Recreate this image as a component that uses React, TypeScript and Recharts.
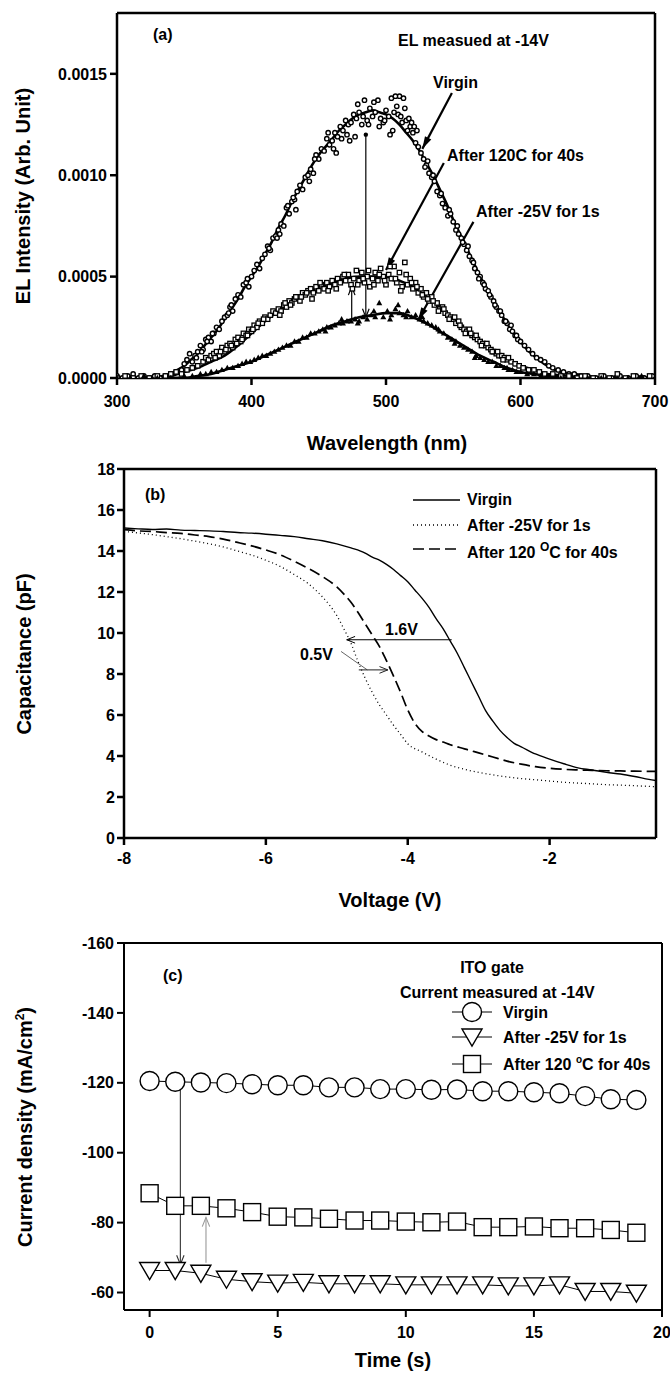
import React from 'react'
import { ComposedChart, Line, Scatter, XAxis, YAxis, ReferenceLine } from 'recharts'

const FONT = '"Liberation Sans", Arial, Helvetica, sans-serif'

// ---------- (a) EL spectra ----------
const wlTicks = [300, 400, 500, 600, 700]
const elTicks = [0, 0.0005, 0.001, 0.0015]

const virginPts: [number, number][] = [
  [300, 0.00001], [304, 0], [308, 0.00001], [312, 0.00002], [316, 0], [320, 0.00001], [324, 0], [328, 0.00001],
  [332, 0], [336, 0.00001], [340, 0.00002], [344, 0.00003], [348, 0.00004], [350, 0.00007], [352, 0.00009],
  [354, 0.00012], [356, 0.00008], [358, 0.00011], [360, 0.00013], [362, 0.00016], [364, 0.00014], [366, 0.00019],
  [368, 0.0002], [370, 0.00018], [372, 0.00022], [374, 0.00025], [376, 0.00024], [378, 0.00028], [380, 0.0003],
  [382, 0.00031], [384, 0.00035], [386, 0.00033], [388, 0.00039], [390, 0.00041], [392, 0.0004], [394, 0.00046],
  [396, 0.00047], [398, 0.00045], [400, 0.0005], [402, 0.00053], [404, 0.00056], [406, 0.00054], [408, 0.00059],
  [410, 0.00061], [412, 0.00065], [414, 0.00063], [416, 0.00069], [418, 0.0007], [420, 0.00073], [422, 0.00076],
  [424, 0.00075], [426, 0.00084], [428, 0.00081], [430, 0.00087], [432, 0.00088], [434, 0.00092], [436, 0.00095],
  [438, 0.00093], [440, 0.00099], [442, 0.001], [444, 0.00103], [446, 0.00101], [448, 0.0011], [450, 0.00108],
  [452, 0.00113], [454, 0.00112], [456, 0.00118], [458, 0.00115], [460, 0.00117], [462, 0.00121], [464, 0.00119],
  [466, 0.00124], [468, 0.00122], [470, 0.00127], [472, 0.00125], [474, 0.00126], [476, 0.0013], [478, 0.00128],
  [480, 0.00131], [482, 0.00125], [484, 0.00137], [486, 0.00127], [488, 0.00133], [490, 0.00129], [492, 0.00131],
  [494, 0.00137], [496, 0.00128], [498, 0.00126], [500, 0.00132], [502, 0.00129], [504, 0.00138], [506, 0.00131],
  [508, 0.00134], [510, 0.00139], [512, 0.00126], [514, 0.00133], [516, 0.00122], [518, 0.00124], [520, 0.00121],
  [522, 0.00116], [524, 0.00114], [526, 0.00111], [528, 0.00108], [530, 0.00105], [532, 0.00101], [534, 0.00099],
  [536, 0.00097], [538, 0.00092], [540, 0.0009], [542, 0.00086], [544, 0.00084], [546, 0.0008], [548, 0.00081],
  [550, 0.00077], [552, 0.00073], [554, 0.00071], [556, 0.00069], [558, 0.00066], [560, 0.00063], [562, 0.0006],
  [564, 0.00058], [566, 0.00054], [568, 0.00052], [570, 0.0005], [572, 0.00047], [574, 0.00044], [576, 0.00043],
  [578, 0.0004], [580, 0.00038], [582, 0.00035], [584, 0.00033], [586, 0.00031], [588, 0.00028], [590, 0.00027],
  [592, 0.00024], [594, 0.00023], [596, 0.00021], [598, 0.00019], [600, 0.00018], [603, 0.00016], [606, 0.00014],
  [609, 0.00012], [612, 0.0001], [615, 0.00009], [618, 0.00008], [621, 0.00006], [624, 0.00005], [628, 0.00004],
  [632, 0.00003], [636, 0.00002], [640, 0.00002], [645, 0.00001], [650, 0.00001], [656, 0], [662, 0.00001],
  [668, 0], [674, 0.00001], [680, 0], [686, 0.00001], [692, 0], [698, 0.00001],
  // second scan, odd wavelengths
  [359, 0.0001], [363, 0.00013], [367, 0.00018], [371, 0.00022], [383, 0.00032], [385, 0.00036], [397, 0.00049],
  [413, 0.00064], [419, 0.00069], [421, 0.00071], [427, 0.00085], [431, 0.00089], [433, 0.00083], [443, 0.00097],
  [447, 0.00108], [457, 0.00121], [461, 0.00113], [463, 0.00111], [467, 0.00118], [471, 0.0012], [473, 0.00117],
  [477, 0.00119], [479, 0.00135], [483, 0.00129], [487, 0.00125], [491, 0.00136], [495, 0.00124], [499, 0.00127],
  [503, 0.0012], [505, 0.00122], [507, 0.00139], [509, 0.0013], [511, 0.00129], [513, 0.00138], [515, 0.00127],
  [517, 0.00128], [519, 0.00126], [521, 0.00124], [523, 0.00122], [529, 0.00104], [531, 0.00107], [535, 0.001],
  [541, 0.00091], [547, 0.00083], [553, 0.00075], [557, 0.00067], [561, 0.00065], [565, 0.00057], [569, 0.00049],
  [573, 0.00046], [577, 0.00041], [581, 0.00036], [585, 0.00033], [589, 0.00028], [593, 0.00026], [597, 0.00021],
]

const bakePts: [number, number][] = [
  [300, 0], [306, 0.00001], [312, 0], [318, 0.00001], [324, 0], [330, 0.00001], [336, 0.00001], [340, 0.00002],
  [344, 0.00003], [348, 0.00002], [352, 0.00004], [356, 0.00005], [360, 0.00006], [364, 0.00008], [366, 0.0001],
  [368, 0.00009], [370, 0.00011], [372, 0.00012], [374, 0.00013], [376, 0.00011], [378, 0.00015], [380, 0.00013],
  [382, 0.00016], [384, 0.00017], [386, 0.00015], [388, 0.00019], [390, 0.0002], [392, 0.00018], [394, 0.00022],
  [396, 0.00021], [398, 0.00024], [400, 0.00023], [402, 0.00026], [404, 0.00025], [406, 0.00028], [408, 0.00027],
  [410, 0.0003], [412, 0.00029], [414, 0.00031], [416, 0.00033], [418, 0.00032], [420, 0.00034], [422, 0.00033],
  [424, 0.00036], [426, 0.00035], [428, 0.00038], [430, 0.00037], [432, 0.00039], [434, 0.0004], [436, 0.00038],
  [438, 0.00042], [440, 0.00041], [442, 0.00043], [444, 0.00044], [446, 0.00042], [448, 0.00045], [450, 0.00043],
  [452, 0.00046], [454, 0.00044], [456, 0.00047], [458, 0.00045], [460, 0.00048], [462, 0.00046], [464, 0.00049],
  [466, 0.00047], [468, 0.0005], [470, 0.00048], [472, 0.00051], [474, 0.00046], [476, 0.00049], [478, 0.00053],
  [480, 0.00048], [482, 0.00052], [484, 0.00047], [486, 0.0005], [488, 0.00045], [490, 0.00049], [492, 0.00052],
  [494, 0.00048], [496, 0.00054], [498, 0.0005], [500, 0.00046], [502, 0.00051], [504, 0.00049], [506, 0.00055],
  [508, 0.00047], [510, 0.00052], [512, 0.00045], [514, 0.00057], [516, 0.00046], [518, 0.00049], [520, 0.00044],
  [522, 0.00047], [524, 0.00042], [526, 0.00044], [528, 0.0004], [530, 0.00042], [532, 0.00038], [534, 0.0004],
  [536, 0.00036], [538, 0.00037], [540, 0.00034], [542, 0.00035], [544, 0.00032], [546, 0.00031], [548, 0.0003],
  [550, 0.00029], [552, 0.00027], [554, 0.00028], [556, 0.00025], [558, 0.00024], [560, 0.00023], [562, 0.00024],
  [564, 0.00021], [566, 0.0002], [568, 0.00019], [570, 0.00018], [572, 0.00017], [574, 0.00016], [576, 0.00015],
  [578, 0.00014], [580, 0.00013], [582, 0.00012], [584, 0.00011], [586, 0.00011], [588, 0.0001], [590, 0.00009],
  [593, 0.00008], [596, 0.00007], [599, 0.00006], [602, 0.00005], [606, 0.00004], [610, 0.00004], [614, 0.00003],
  [618, 0.00002], [624, 0.00002], [630, 0.00001], [636, 0.00001], [642, 0], [648, 0.00001], [654, 0],
  [660, 0.00001], [666, 0], [672, 0.00002], [678, 0], [684, 0.00001], [690, 0], [696, 0.00001],
  // second scan, odd wavelengths
  [373, 0.0001], [377, 0.00013], [381, 0.00014], [385, 0.00016], [389, 0.00017], [393, 0.00019], [397, 0.00021],
  [401, 0.00024], [405, 0.00027], [409, 0.00029], [421, 0.00031], [425, 0.00037], [429, 0.00036], [433, 0.0004],
  [437, 0.0004], [441, 0.00042], [445, 0.00039], [451, 0.00047], [457, 0.00043], [463, 0.00044], [469, 0.00051],
  [475, 0.00044], [479, 0.00046], [483, 0.00049], [487, 0.00053], [491, 0.00046], [495, 0.00051], [499, 0.00048],
  [503, 0.00055], [507, 0.00049], [511, 0.00043], [515, 0.00051], [519, 0.00047], [523, 0.00045], [527, 0.00041],
  [531, 0.00039], [535, 0.00038], [539, 0.00033], [543, 0.00034], [547, 0.00029], [551, 0.0003], [555, 0.00026],
  [559, 0.00022], [563, 0.00022], [567, 0.00021], [571, 0.00016], [575, 0.00017], [579, 0.00013], [583, 0.00013],
  [587, 0.00009], [591, 0.0001],
]

const stressPts: [number, number][] = [
  [300, 0], [310, 0], [320, 0.00001], [330, 0], [340, 0], [350, 0.00001], [356, 0.00001], [362, 0.00002],
  [366, 0.00002], [370, 0.00003], [374, 0.00003], [378, 0.00004], [382, 0.00005], [386, 0.00005], [390, 0.00006],
  [393, 0.00007], [396, 0.00008], [399, 0.00008], [402, 0.00009], [405, 0.0001], [408, 0.00011], [411, 0.00011],
  [414, 0.00012], [417, 0.00013], [420, 0.00014], [423, 0.00015], [426, 0.00016], [429, 0.00016], [432, 0.00018],
  [435, 0.00018], [438, 0.0002], [441, 0.0002], [444, 0.00022], [447, 0.00022], [450, 0.00023], [453, 0.00024],
  [456, 0.00025], [459, 0.00025], [462, 0.00026], [465, 0.00027], [468, 0.00027], [471, 0.00028], [474, 0.00028],
  [477, 0.00029], [480, 0.00028], [483, 0.0003], [486, 0.00029], [489, 0.00031], [492, 0.0003], [495, 0.00037],
  [498, 0.0003], [501, 0.00033], [504, 0.00031], [507, 0.00034], [510, 0.00032], [513, 0.00031], [516, 0.00033],
  [519, 0.0003], [522, 0.00031], [525, 0.00029], [528, 0.00028], [531, 0.00027], [534, 0.00026], [537, 0.00025],
  [540, 0.00023], [543, 0.00022], [546, 0.0002], [549, 0.00019], [552, 0.00018], [555, 0.00016], [558, 0.00015],
  [561, 0.00014], [564, 0.00013], [567, 0.00011], [570, 0.0001], [573, 0.00009], [576, 0.00008], [579, 0.00008],
  [582, 0.00006], [585, 0.00006], [588, 0.00005], [591, 0.00004], [594, 0.00004], [597, 0.00003], [600, 0.00003],
  [605, 0.00002], [610, 0.00002], [615, 0.00001], [620, 0.00001], [630, 0], [640, 0], [650, 0], [660, 0],
  [670, 0], [680, 0], [690, 0.00001], [700, 0],
  // second scan
  [455, 0.00023], [467, 0.00029], [479, 0.00027], [491, 0.00033], [503, 0.00029], [509, 0.00036], [515, 0.0003],
  [527, 0.0003], [539, 0.00024], [551, 0.00017], [566, 0.0001], [590, 0.00005],
]

const virginFit: [number, number][] = [
  [300, 0], [320, 0], [340, 0.00002], [345, 0.00004], [350, 0.00006], [355, 0.00009], [360, 0.00012], [365, 0.00016],
  [370, 0.0002], [375, 0.00024], [380, 0.00029], [385, 0.00034], [390, 0.00039], [395, 0.00045], [400, 0.0005],
  [405, 0.00055], [410, 0.00061], [415, 0.00067], [420, 0.00074], [425, 0.0008], [430, 0.00087], [435, 0.00093],
  [440, 0.00099], [445, 0.00105], [450, 0.0011], [455, 0.00114], [460, 0.00118], [465, 0.00122], [470, 0.00125],
  [475, 0.00128], [480, 0.0013], [485, 0.00131], [490, 0.00132], [495, 0.00131], [500, 0.0013], [505, 0.00128],
  [510, 0.00125], [515, 0.00121], [520, 0.00117], [525, 0.00112], [530, 0.00106], [535, 0.001], [540, 0.00093],
  [545, 0.00086], [550, 0.00078], [555, 0.00071], [560, 0.00064], [565, 0.00057], [570, 0.0005], [575, 0.00044],
  [580, 0.00038], [585, 0.00032], [590, 0.00027], [595, 0.00022], [600, 0.00018], [605, 0.00014], [610, 0.00011],
  [620, 0.00006], [630, 0.00003], [640, 0.00002], [650, 0.00001], [670, 0], [700, 0],
]

const bakeFit: [number, number][] = [
  [300, 0], [330, 0], [340, 0.00001], [350, 0.00003], [360, 0.00005], [370, 0.00008], [380, 0.00011], [390, 0.00016],
  [400, 0.00022], [410, 0.00028], [420, 0.00033], [430, 0.00038], [440, 0.00042], [450, 0.00045], [460, 0.00047],
  [470, 0.00049], [480, 0.0005], [490, 0.0005], [500, 0.0005], [510, 0.00048], [520, 0.00045], [530, 0.0004],
  [540, 0.00035], [550, 0.00029], [560, 0.00023], [570, 0.00018], [580, 0.00013], [590, 0.00009], [600, 0.00006],
  [610, 0.00004], [620, 0.00002], [640, 0.00001], [660, 0], [700, 0],
]

const stressFit: [number, number][] = [
  [300, 0], [350, 0], [360, 0.00001], [370, 0.00002], [380, 0.00004], [390, 0.00006], [400, 0.00008], [410, 0.00011],
  [420, 0.00014], [430, 0.00017], [440, 0.0002], [450, 0.00023], [460, 0.00026], [470, 0.00028], [480, 0.0003],
  [490, 0.00031], [500, 0.00032], [510, 0.00032], [520, 0.0003], [530, 0.00027], [540, 0.00023], [550, 0.00019],
  [560, 0.00015], [570, 0.00011], [580, 0.00008], [590, 0.00005], [600, 0.00003], [610, 0.00002], [620, 0.00001],
  [640, 0], [700, 0],
]

// ---------- (b) C-V ----------
const vTicks = [-8, -6, -4, -2]
const cTicks = [0, 2, 4, 6, 8, 10, 12, 14, 16, 18]

const cvVirgin: [number, number][] = [
  [-8, 15.12], [-7.8, 15.08], [-7.6, 15.05], [-7.4, 15.07], [-7.2, 15.02], [-7, 15.0], [-6.8, 14.98], [-6.6, 14.95],
  [-6.4, 14.9], [-6.2, 14.87], [-6, 14.82], [-5.8, 14.76], [-5.6, 14.7], [-5.4, 14.6], [-5.2, 14.5], [-5, 14.35],
  [-4.8, 14.15], [-4.6, 13.9], [-4.5, 13.7], [-4.4, 13.55], [-4.3, 13.35], [-4.2, 13.1], [-4.1, 12.8], [-4, 12.5],
  [-3.9, 12.1], [-3.8, 11.7], [-3.7, 11.25], [-3.6, 10.7], [-3.5, 10.2], [-3.4, 9.6], [-3.3, 9.0], [-3.2, 8.3],
  [-3.1, 7.6], [-3, 6.9], [-2.9, 6.2], [-2.8, 5.7], [-2.7, 5.25], [-2.6, 4.9], [-2.5, 4.62], [-2.4, 4.45],
  [-2.2, 4.1], [-2, 3.85], [-1.8, 3.62], [-1.6, 3.42], [-1.4, 3.32], [-1.2, 3.2], [-1, 3.12], [-0.8, 3.0],
  [-0.6, 2.86], [-0.5, 2.8],
]

const cvStress: [number, number][] = [
  [-8, 14.96], [-7.8, 14.88], [-7.6, 14.8], [-7.4, 14.7], [-7.2, 14.6], [-7, 14.48], [-6.8, 14.35], [-6.6, 14.2],
  [-6.4, 14.0], [-6.2, 13.8], [-6, 13.55], [-5.8, 13.25], [-5.6, 12.85], [-5.4, 12.4], [-5.2, 11.75], [-5.1, 11.35],
  [-5, 10.85], [-4.9, 10.2], [-4.8, 9.5], [-4.7, 8.6], [-4.6, 7.8], [-4.5, 7.1], [-4.4, 6.5], [-4.3, 6.0],
  [-4.2, 5.5], [-4.1, 5.05], [-4, 4.6], [-3.8, 4.2], [-3.6, 3.85], [-3.4, 3.55], [-3.2, 3.35], [-3, 3.2],
  [-2.8, 3.08], [-2.6, 2.98], [-2.4, 2.9], [-2.2, 2.84], [-2, 2.78], [-1.8, 2.72], [-1.6, 2.68], [-1.4, 2.64],
  [-1.2, 2.6], [-1, 2.58], [-0.8, 2.55], [-0.5, 2.5],
]

const cvBake: [number, number][] = [
  [-8, 15.04], [-7.8, 14.98], [-7.6, 14.95], [-7.4, 14.9], [-7.2, 14.86], [-7, 14.78], [-6.8, 14.7], [-6.6, 14.58],
  [-6.4, 14.42], [-6.2, 14.25], [-6, 14.05], [-5.8, 13.82], [-5.6, 13.5], [-5.4, 13.15], [-5.2, 12.75], [-5, 12.25],
  [-4.9, 11.9], [-4.8, 11.5], [-4.7, 11.0], [-4.6, 10.45], [-4.5, 9.9], [-4.4, 9.35], [-4.3, 8.65], [-4.2, 7.9],
  [-4.1, 7.1], [-4, 6.25], [-3.9, 5.6], [-3.8, 5.2], [-3.7, 4.98], [-3.6, 4.8], [-3.5, 4.68], [-3.4, 4.55],
  [-3.2, 4.35], [-3, 4.15], [-2.8, 3.95], [-2.6, 3.75], [-2.4, 3.6], [-2.2, 3.48], [-2, 3.4], [-1.8, 3.35],
  [-1.6, 3.32], [-1.4, 3.3], [-1.2, 3.28], [-1, 3.27], [-0.8, 3.26], [-0.5, 3.25],
]

// ---------- (c) current vs time ----------
const timeS = [0, 1, 2, 3, 4, 5, 6, 7, 8, 9, 10, 11, 12, 13, 14, 15, 16, 17, 18, 19]
const jVirgin = [-120.5, -120.3, -120.1, -119.9, -119.6, -119.3, -119.3, -118.7, -118.7, -118.2, -118.2, -118.0, -118.1, -117.6, -117.6, -117.3, -117.0, -116.2, -115.3, -115.1]
const jStress = [-66.3, -66.3, -65.5, -63.8, -63.1, -62.7, -62.9, -62.5, -62.5, -62.5, -62.2, -62.2, -62.2, -62.2, -61.9, -61.9, -62.2, -60.3, -60.3, -59.8]
const jBake = [-88.4, -84.8, -84.8, -84.1, -83.0, -81.7, -81.5, -81.1, -80.6, -80.6, -80.3, -80.1, -80.3, -78.7, -78.7, -78.9, -78.4, -78.4, -77.9, -77.1]
const tTicks = [0, 5, 10, 15, 20]
const jTicks = [-160, -140, -120, -100, -80, -60]

const toXY = (arr: [number, number][]) => arr.map(([x, y]) => ({ x, y }))
const jRows = timeS.map((t, i) => ({ t, virgin: jVirgin[i], stress: jStress[i], bake: jBake[i] }))

const tickStyle = { fontSize: 16, fontWeight: 'bold' as const, fill: '#000', fontFamily: FONT }

function arrow({ color = '#000', width = 1, filled = false, size = 8, dot = false }) {
  return (p: any) => {
    const { x1, y1, x2, y2 } = p
    const a = Math.atan2(y2 - y1, x2 - x1)
    const s = filled ? 0.28 : 0.38
    const lx = x2 - size * Math.cos(a - s)
    const ly = y2 - size * Math.sin(a - s)
    const rx = x2 - size * Math.cos(a + s)
    const ry = y2 - size * Math.sin(a + s)
    return (
      <g>
        <line x1={x1} y1={y1} x2={x2} y2={y2} stroke={color} strokeWidth={width} />
        {filled ? (
          <path d={`M${x2},${y2}L${lx},${ly}L${rx},${ry}Z`} fill={color} />
        ) : (
          <path d={`M${lx},${ly}L${x2},${y2}L${rx},${ry}`} fill="none" stroke={color} strokeWidth={width} />
        )}
        {dot && <circle cx={x1} cy={y1} r={2.2} fill={color} />}
      </g>
    )
  }
}

const smallCircle = (p: any) => <circle cx={p.cx} cy={p.cy} r={2.2} fill="#fff" stroke="#000" strokeWidth={1.4} />
const smallSquare = (p: any) => <rect x={p.cx - 2.2} y={p.cy - 2.2} width={4.4} height={4.4} fill="#fff" stroke="#000" strokeWidth={1.3} />
const smallTri = (p: any) => <path d={`M${p.cx},${p.cy - 3.2}L${p.cx + 3},${p.cy + 2.2}L${p.cx - 3},${p.cy + 2.2}Z`} fill="#000" />

const bigCircle = (p: any) => <circle key={p.index} cx={p.cx} cy={p.cy} r={9.5} fill="#fff" stroke="#000" strokeWidth={1.4} />
const bigSquare = (p: any) => <rect key={p.index} x={p.cx - 8.5} y={p.cy - 8.5} width={17} height={17} fill="#fff" stroke="#000" strokeWidth={1.4} />
const bigTri = (p: any) => <path key={p.index} d={`M${p.cx - 10},${p.cy - 8}L${p.cx + 10},${p.cy - 8}L${p.cx},${p.cy + 9}Z`} fill="#fff" stroke="#000" strokeWidth={1.4} />

function PanelA() {
  return (
    <ComposedChart width={670} height={460} margin={{ top: 13, right: 15, bottom: 0, left: 0 }}>
      <XAxis type="number" dataKey="x" domain={[300, 700]} ticks={wlTicks} height={82} stroke="#000" strokeWidth={2.5}
        tickSize={7} tickMargin={11} tick={tickStyle} allowDataOverflow />
      <YAxis type="number" dataKey="y" domain={[0, 0.0018]} ticks={elTicks} width={117} stroke="#000" strokeWidth={2.5}
        tickSize={7} tickMargin={3} tick={tickStyle} tickFormatter={(v: number) => v.toFixed(4)} allowDataOverflow />
      <ReferenceLine y={0.0018} stroke="#000" strokeWidth={2.5} />
      <ReferenceLine x={700} stroke="#000" strokeWidth={2.5} />
      <Scatter data={toXY(virginPts)} shape={smallCircle} isAnimationActive={false} />
      <Scatter data={toXY(bakePts)} shape={smallSquare} isAnimationActive={false} />
      <Scatter data={toXY(stressPts)} shape={smallTri} isAnimationActive={false} />
      <Line data={toXY(virginFit)} dataKey="y" type="monotone" stroke="#000" strokeWidth={2.6} dot={false} isAnimationActive={false} />
      <Line data={toXY(bakeFit)} dataKey="y" type="monotone" stroke="#000" strokeWidth={2.6} dot={false} isAnimationActive={false} />
      <Line data={toXY(stressFit)} dataKey="y" type="monotone" stroke="#000" strokeWidth={2.6} dot={false} isAnimationActive={false} />
      <ReferenceLine segment={[{ x: 549, y: 0.001406 }, { x: 527, y: 0.00113 }]} shape={arrow({ width: 2.2, filled: true, size: 13 })} />
      <ReferenceLine segment={[{ x: 543, y: 0.00106 }, { x: 500, y: 0.000533 }]} shape={arrow({ width: 2.2, filled: true, size: 13 })} />
      <ReferenceLine segment={[{ x: 565, y: 0.00077 }, { x: 524, y: 0.000287 }]} shape={arrow({ width: 2.2, filled: true, size: 13 })} />
      <ReferenceLine segment={[{ x: 485, y: 0.0012 }, { x: 485, y: 0.0003 }]} shape={arrow({ width: 1.2, size: 9, dot: true })} />
      <ReferenceLine segment={[{ x: 474.5, y: 0.000288 }, { x: 474.5, y: 0.00045 }]} shape={arrow({ width: 1.2, size: 9 })} />
    </ComposedChart>
  )
}

function PanelB() {
  return (
    <ComposedChart width={670} height={460} margin={{ top: 9, right: 14, bottom: 0, left: 0 }}>
      <XAxis type="number" dataKey="x" domain={[-8, -0.5]} ticks={vTicks} height={82} stroke="#000" strokeWidth={2.5}
        tickSize={7} tickMargin={8} tick={tickStyle} allowDataOverflow />
      <YAxis type="number" domain={[0, 18]} ticks={cTicks} width={124} stroke="#000" strokeWidth={2.5}
        tickSize={7} tickMargin={2} tick={tickStyle} allowDataOverflow />
      <ReferenceLine y={18} stroke="#000" strokeWidth={2.5} />
      <ReferenceLine x={-0.5} stroke="#000" strokeWidth={2.5} />
      <Line data={toXY(cvVirgin)} dataKey="y" type="monotone" stroke="#000" strokeWidth={1.4} dot={false} isAnimationActive={false} />
      <Line data={toXY(cvStress)} dataKey="y" type="monotone" stroke="#000" strokeWidth={1.3} strokeDasharray="1 3" dot={false} isAnimationActive={false} />
      <Line data={toXY(cvBake)} dataKey="y" type="monotone" stroke="#000" strokeWidth={1.7} strokeDasharray="11 5" dot={false} isAnimationActive={false} />
      <ReferenceLine segment={[{ x: -3.38, y: 9.67 }, { x: -4.86, y: 9.67 }]} shape={arrow({ width: 1, size: 9 })} />
      <ReferenceLine segment={[{ x: -4.94, y: 9.1 }, { x: -4.57, y: 8.2 }]} shape={(p: any) => <line x1={p.x1} y1={p.y1} x2={p.x2} y2={p.y2} stroke="#555" strokeWidth={0.9} />} />
      <ReferenceLine segment={[{ x: -4.69, y: 8.2 }, { x: -4.28, y: 8.2 }]} shape={arrow({ width: 1, size: 9, color: '#222' })} />
    </ComposedChart>
  )
}

function PanelC() {
  return (
    <ComposedChart width={670} height={463} data={jRows} margin={{ top: 23, right: 8, bottom: 0, left: 0 }}>
      <XAxis type="number" dataKey="t" domain={[-1, 20]} ticks={tTicks} height={73} stroke="#000" strokeWidth={2}
        tickSize={7} tickMargin={10} tick={tickStyle} allowDataOverflow />
      <YAxis type="number" domain={[-160, -55]} reversed ticks={jTicks} width={124} stroke="#000" strokeWidth={2}
        tickSize={7} tickMargin={3} tick={tickStyle} allowDataOverflow />
      <ReferenceLine y={-160} stroke="#000" strokeWidth={2} />
      <ReferenceLine x={20} stroke="#000" strokeWidth={2} />
      <Line dataKey="virgin" type="linear" stroke="#000" strokeWidth={1} dot={bigCircle} isAnimationActive={false} />
      <Line dataKey="bake" type="linear" stroke="#000" strokeWidth={1} dot={bigSquare} isAnimationActive={false} />
      <Line dataKey="stress" type="linear" stroke="#000" strokeWidth={1} dot={bigTri} isAnimationActive={false} />
      <ReferenceLine segment={[{ x: 1.2, y: -119.5 }, { x: 1.2, y: -68 }]} shape={arrow({ width: 1.1, size: 10, color: '#333' })} />
      <ReferenceLine segment={[{ x: 2.2, y: -68.5 }, { x: 2.2, y: -81.5 }]} shape={arrow({ width: 1.1, size: 10, color: '#999' })} />
    </ComposedChart>
  )
}

const txt = { fontFamily: FONT, fontWeight: 'bold' as const, fill: '#000' }

function Overlay() {
  return (
    <svg width={670} height={1383} style={{ position: 'absolute', left: 0, top: 0, pointerEvents: 'none' }}>
      {/* (a) */}
      <text x={153} y={40} fontSize={16} {...txt}>(a)</text>
      <text x={398} y={46} fontSize={16} {...txt}>EL measued at -14V</text>
      <text x={433} y={88} fontSize={16} {...txt}>Virgin</text>
      <text x={447} y={161} fontSize={16} {...txt}>After 120C for 40s</text>
      <text x={476} y={217} fontSize={16} {...txt}>After -25V for 1s</text>
      <text x={387} y={450} fontSize={20} textAnchor="middle" {...txt}>Wavelength (nm)</text>
      <text x={0} y={0} fontSize={20} textAnchor="middle" transform="translate(30,196) rotate(-90)" {...txt}>EL Intensity (Arb. Unit)</text>

      {/* (b) */}
      <text x={145} y={500} fontSize={16} {...txt}>(b)</text>
      <line x1={413} y1={500} x2={460} y2={500} stroke="#000" strokeWidth={1.4} />
      <line x1={413} y1={525} x2={460} y2={525} stroke="#000" strokeWidth={1.3} strokeDasharray="1 3" />
      <line x1={413} y1={549} x2={460} y2={549} stroke="#000" strokeWidth={1.7} strokeDasharray="11 5" />
      <text x={467} y={505} fontSize={16} {...txt}>Virgin</text>
      <text x={467} y={531} fontSize={16} {...txt}>After -25V for 1s</text>
      <text x={467} y={558} fontSize={16} {...txt}>After 120 <tspan dy={-7} fontSize={12}>O</tspan><tspan dy={7}>C for 40s</tspan></text>
      <text x={385} y={635} fontSize={16} {...txt}>1.6V</text>
      <text x={300} y={660} fontSize={16} {...txt}>0.5V</text>
      <text x={390} y={907} fontSize={20} textAnchor="middle" {...txt}>Voltage (V)</text>
      <text x={0} y={0} fontSize={20} textAnchor="middle" transform="translate(31,654) rotate(-90)" {...txt}>Capacitance (pF)</text>

      {/* (c) */}
      <text x={163} y={981} fontSize={16} {...txt}>(c)</text>
      <text x={492} y={973} fontSize={16} textAnchor="middle" {...txt}>ITO gate</text>
      <text x={400} y={998} fontSize={16} {...txt}>Current measured at -14V</text>
      <line x1={452} y1={1012} x2={492} y2={1012} stroke="#000" strokeWidth={1} />
      <circle cx={472} cy={1012} r={9.5} fill="#fff" stroke="#000" strokeWidth={1.4} />
      <line x1={452} y1={1037} x2={492} y2={1037} stroke="#000" strokeWidth={1} />
      <path d="M462,1029L482,1029L472,1046Z" fill="#fff" stroke="#000" strokeWidth={1.4} />
      <line x1={452} y1={1064} x2={492} y2={1064} stroke="#000" strokeWidth={1} />
      <rect x={463.5} y={1055.5} width={17} height={17} fill="#fff" stroke="#000" strokeWidth={1.4} />
      <text x={503} y={1018} fontSize={16} {...txt}>Virgin</text>
      <text x={503} y={1043} fontSize={16} {...txt}>After -25V for 1s</text>
      <text x={503} y={1070} fontSize={16} {...txt}>After 120 <tspan dy={-7} fontSize={10}>o</tspan><tspan dy={7}>C for 40s</tspan></text>
      <text x={393} y={1367} fontSize={20} textAnchor="middle" {...txt}>Time (s)</text>
      <text x={0} y={0} fontSize={20} textAnchor="middle" transform="translate(32,1127) rotate(-90)" {...txt}>
        Current density (mA/cm<tspan dy={-8} fontSize={12}>2</tspan><tspan dy={8}>)</tspan>
      </text>
    </svg>
  )
}

export default function App() {
  return (
    <div style={{ position: 'absolute', left: 0, top: 0, width: 670, height: 1383, background: '#fff' }}>
      <div style={{ position: 'absolute', left: 0, top: 0 }}><PanelA /></div>
      <div style={{ position: 'absolute', left: 0, top: 460 }}><PanelB /></div>
      <div style={{ position: 'absolute', left: 0, top: 920 }}><PanelC /></div>
      <Overlay />
    </div>
  )
}
